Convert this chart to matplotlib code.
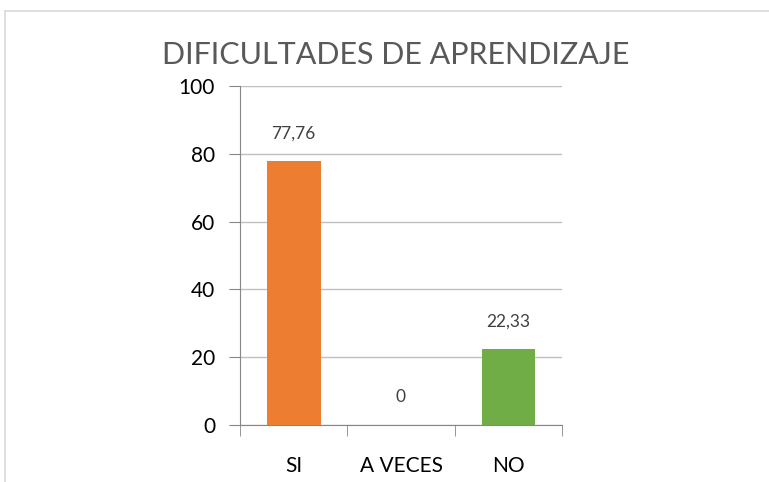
import matplotlib.pyplot as plt
from matplotlib.lines import Line2D

# Datos del grafico
categorias = ['SI', 'A VECES', 'NO']
valores = [77.76, 0, 22.33]
etiquetas = ['77,76', '0', '22,33']
colores = ['#ED7D31', '#A5A5A5', '#70AD47']
marcas_y = [0, 20, 40, 60, 80, 100]

plt.rcParams['font.family'] = ['Lato', 'DejaVu Sans']

fig = plt.figure(figsize=(7.69, 4.82), dpi=100)
ax = fig.add_axes([240 / 769, 1 - 425 / 482, 322 / 769, 339 / 482])

# Marco del grafico (solo borde superior e izquierdo visibles)
fig.add_artist(Line2D([5 / 769, 1], [1 - 11 / 482, 1 - 11 / 482], color='#d9d9d9', lw=1.2))
fig.add_artist(Line2D([5 / 769, 5 / 769], [0, 1 - 11 / 482], color='#d9d9d9', lw=1.2))

x = range(len(categorias))
ax.bar(x, valores, width=0.5, color=colores, zorder=3)

for i, (v, t) in enumerate(zip(valores, etiquetas)):
    ax.annotate(t, (i, v), xytext=(0, 20), textcoords='offset points',
                ha='center', va='center', fontsize=12.5, color='#404040')

ax.set_xlim(-0.5, 2.5)
ax.set_ylim(0, 100)
ax.set_yticks(marcas_y)
ax.set_yticklabels([str(m) for m in marcas_y], fontsize=15)
ax.set_xticks(list(x))
ax.set_xticklabels(categorias, fontsize=15)
ax.set_xticks([-0.5, 0.5, 1.5, 2.5], minor=True)

ax.grid(axis='y', color='#bfbfbf', lw=1, zorder=0)
ax.tick_params(axis='x', which='major', length=0, pad=22)
ax.tick_params(axis='x', which='minor', length=8, color='#868686')
ax.tick_params(axis='y', length=8, color='#868686', pad=10)

for s in ['top', 'right']:
    ax.spines[s].set_visible(False)
for s in ['left', 'bottom']:
    ax.spines[s].set_color('#868686')

fig.text(396 / 769, 1 - 55 / 482, 'DIFICULTADES DE APRENDIZAJE',
         ha='center', va='center', fontsize=22, color='#595959')

fig.savefig('out.png', dpi=100)
